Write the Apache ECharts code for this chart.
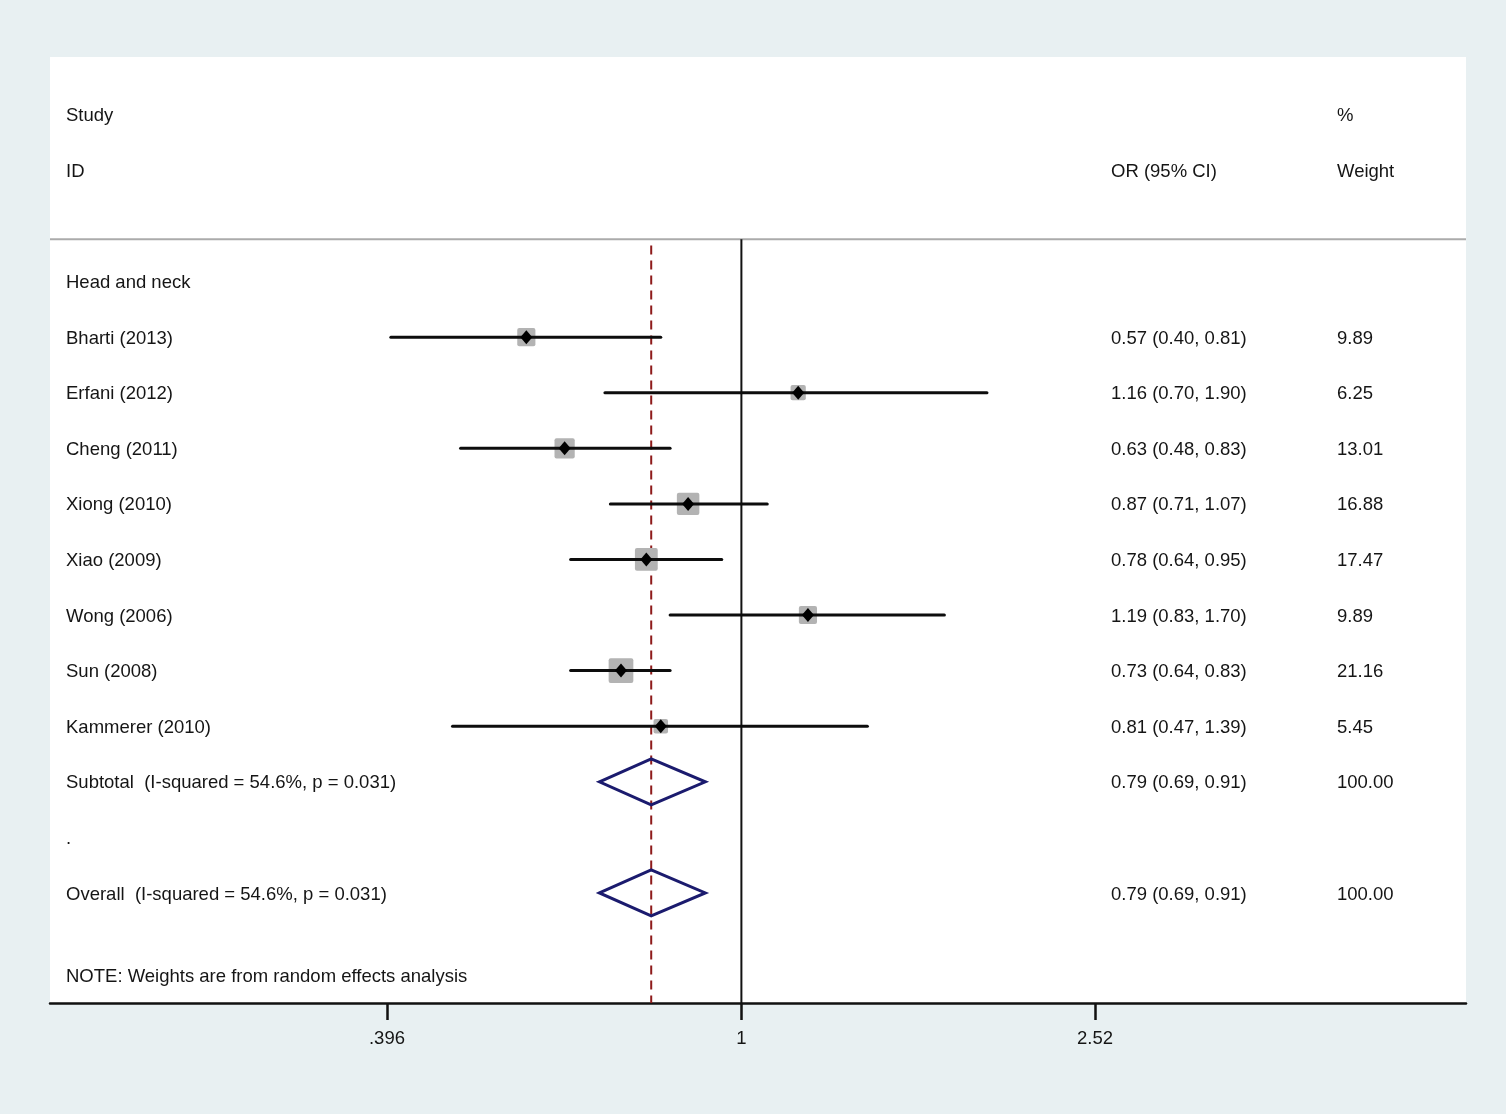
<!DOCTYPE html>
<html>
<head>
<meta charset="utf-8">
<title>Forest plot</title>
<script src="https://cdn.jsdelivr.net/npm/echarts@6/dist/echarts.min.js"></script>
<style>
  html, body { margin: 0; padding: 0; background: #e8f0f2; }
  #chart { width: 1506px; height: 1114px; }
</style>
</head>
<body>
<div id="chart"></div>
<script>
// study level data
var studies = ['Bharti (2013)', 'Erfani (2012)', 'Cheng (2011)', 'Xiong (2010)', 'Xiao (2009)', 'Wong (2006)', 'Sun (2008)', 'Kammerer (2010)'];
var orEst = [0.57, 1.16, 0.63, 0.87, 0.78, 1.19, 0.73, 0.81];
var ciLow = [0.40, 0.70, 0.48, 0.71, 0.64, 0.83, 0.64, 0.47];
var ciHigh = [0.81, 1.90, 0.83, 1.07, 0.95, 1.70, 0.83, 1.39];
var weights = [9.89, 6.25, 13.01, 16.88, 17.47, 9.89, 21.16, 5.45];

// pooled estimates
var pooledNames = ['Subtotal  (I-squared = 54.6%, p = 0.031)', 'Overall  (I-squared = 54.6%, p = 0.031)'];
var pooledOR = [0.79, 0.79];
var pooledLow = [0.69, 0.69];
var pooledHigh = [0.91, 0.91];
var pooledWeight = [100.00, 100.00];

// axis ticks
var tickValues = [0.396, 1, 2.52];
var tickLabels = ['.396', '1', '2.52'];

// rows (table layout)
var headerTexts = ['Study', 'ID', 'OR (95% CI)', '%', 'Weight', 'Head and neck', '.', 'NOTE: Weights are from random effects analysis'];
var headerRows = [0, 1, 1, 0, 1, 3, 13, 15.49];
var headerCols = [0, 0, 1, 2, 2, 0, 0, 0];
var firstStudyRow = 4;
var pooledRows = [12, 14];

var colX = [16, 1061, 1287];   // text columns, from grid left
var FONT = '18.5px "Liberation Sans", Arial, sans-serif';
var TXT = '#151515';

function fmt(v) { return v.toFixed(2); }

function textEl(x, y, s) {
    return {
        type: 'text', x: x, y: y + 1.5,
        style: { text: s, fill: TXT, font: FONT, align: 'left', verticalAlign: 'middle' }
    };
}

var chart = echarts.init(document.getElementById('chart'));

var option = {
    backgroundColor: '#e8f0f2',
    animation: false,
    grid: {
        left: 50, right: 40, top: 57, bottom: 111,
        show: true, backgroundColor: '#ffffff', borderWidth: 0
    },
    xAxis: {
        type: 'value',
        min: Math.log(0.396) - 0.8808,
        max: Math.log(2.52) + 0.9697,
        splitLine: { show: false },
        axisLine: { show: true, onZero: false, lineStyle: { color: '#111', width: 2.5 } },
        axisTick: {
            show: true, length: 17, inside: false,
            customValues: tickValues.map(function (v) { return Math.log(v); }),
            lineStyle: { color: '#111', width: 2.5 }
        },
        axisLabel: {
            show: true, margin: 26,
            customValues: tickValues.map(function (v) { return Math.log(v); }),
            formatter: function (v) {
                for (var i = 0; i < tickValues.length; i++) {
                    if (Math.abs(Math.log(tickValues[i]) - v) < 1e-6) return tickLabels[i];
                }
                return '';
            },
            color: TXT, fontSize: 18.5, fontFamily: '"Liberation Sans", Arial, sans-serif'
        }
    },
    yAxis: {
        type: 'value', inverse: true, show: false,
        min: -1.04, max: 15.98
    },
    series: [
        {
            // reference lines
            name: 'guides', type: 'custom', z: 1,
            data: [[Math.log(pooledOR[1]), 0]],
            renderItem: function (params, api) {
                var cs = params.coordSys;
                var sepY = api.coord([0, 2.24])[1];
                var bottom = cs.y + cs.height;
                var nullX = api.coord([0, 0])[0];
                var pX = api.coord([api.value(0), 0])[0];
                var dashTop = api.coord([0, 2.35])[1];
                return {
                    type: 'group',
                    children: [
                        { type: 'line', shape: { x1: cs.x, y1: sepY, x2: cs.x + cs.width, y2: sepY },
                          style: { stroke: '#ababab', lineWidth: 2 } },
                        { type: 'line', shape: { x1: nullX, y1: sepY, x2: nullX, y2: bottom },
                          style: { stroke: '#111', lineWidth: 2 } },
                        { type: 'line', shape: { x1: pX, y1: dashTop, x2: pX, y2: bottom },
                          style: { stroke: '#8e1b1b', lineWidth: 2, lineDash: [9, 6] } }
                    ]
                };
            }
        },
        {
            // header / label texts
            name: 'headers', type: 'custom', z: 2,
            data: headerRows.map(function (r) { return [0, r]; }),
            renderItem: function (params, api) {
                var cs = params.coordSys;
                var i = params.dataIndex;
                var y = api.coord([0, api.value(1)])[1];
                return textEl(cs.x + colX[headerCols[i]], y, headerTexts[i]);
            }
        },
        {
            // studies
            name: 'studies', type: 'custom', z: 3,
            data: studies.map(function (s, i) {
                return [Math.log(ciLow[i]), Math.log(ciHigh[i]), Math.log(orEst[i]), weights[i], firstStudyRow + i];
            }),
            renderItem: function (params, api) {
                var cs = params.coordSys;
                var i = params.dataIndex;
                var row = api.value(4);
                var pLo = api.coord([api.value(0), row]);
                var pHi = api.coord([api.value(1), row]);
                var pt = api.coord([api.value(2), row]);
                var side = 4.5 * Math.sqrt(api.value(3)) + 4;
                return {
                    type: 'group',
                    children: [
                        { type: 'rect', shape: { x: pt[0] - side / 2, y: pt[1] - side / 2, width: side, height: side, r: 2 },
                          style: { fill: '#b3b3b3' } },
                        { type: 'line', shape: { x1: pLo[0], y1: pLo[1], x2: pHi[0], y2: pHi[1] },
                          style: { stroke: '#0d0d0d', lineWidth: 3, lineCap: 'round' } },
                        { type: 'polygon', shape: { points: [[pt[0] - 6, pt[1]], [pt[0], pt[1] - 7], [pt[0] + 6, pt[1]], [pt[0], pt[1] + 7]] },
                          style: { fill: '#000' } },
                        textEl(cs.x + colX[0], pt[1], studies[i]),
                        textEl(cs.x + colX[1], pt[1], fmt(orEst[i]) + ' (' + fmt(ciLow[i]) + ', ' + fmt(ciHigh[i]) + ')'),
                        textEl(cs.x + colX[2], pt[1], fmt(weights[i]))
                    ]
                };
            }
        },
        {
            // pooled diamonds
            name: 'pooled', type: 'custom', z: 4,
            data: pooledNames.map(function (s, i) {
                return [Math.log(pooledLow[i]), Math.log(pooledHigh[i]), Math.log(pooledOR[i]), pooledRows[i]];
            }),
            renderItem: function (params, api) {
                var cs = params.coordSys;
                var i = params.dataIndex;
                var row = api.value(3);
                var pLo = api.coord([api.value(0), row]);
                var pHi = api.coord([api.value(1), row]);
                var pt = api.coord([api.value(2), row]);
                var h = 23;
                return {
                    type: 'group',
                    children: [
                        { type: 'polygon', shape: { points: [[pLo[0], pt[1]], [pt[0], pt[1] - h], [pHi[0], pt[1]], [pt[0], pt[1] + h]] },
                          style: { fill: 'none', stroke: '#1b1b6e', lineWidth: 3, lineJoin: 'miter' } },
                        textEl(cs.x + colX[0], pt[1], pooledNames[i]),
                        textEl(cs.x + colX[1], pt[1], fmt(pooledOR[i]) + ' (' + fmt(pooledLow[i]) + ', ' + fmt(pooledHigh[i]) + ')'),
                        textEl(cs.x + colX[2], pt[1], fmt(pooledWeight[i]))
                    ]
                };
            }
        }
    ]
};

chart.setOption(option);
</script>
</body>
</html>
